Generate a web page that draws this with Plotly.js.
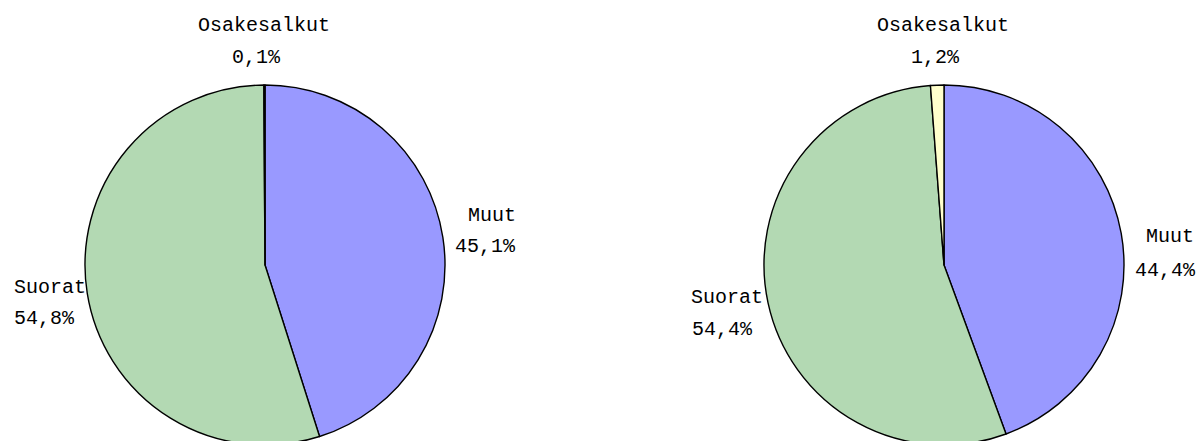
<!DOCTYPE html>
<html>
<head>
<meta charset="utf-8">
<script src="https://cdn.plot.ly/plotly-3.0.1.min.js"></script>
<style>
html,body{margin:0;padding:0;overflow:hidden;background:#fff;}
#chart{width:1201px;height:461px;}
</style>
</head>
<body>
<div id="chart"></div>
<script>
// Data
const categories = ["Muut", "Suorat", "Osakesalkut"];
const leftValues = [45.1, 54.8, 0.1];
const rightValues = [44.4, 54.4, 1.2];
const sliceColors = ["#9999FF", "#B3D9B3", "#FFFFCC"];

const W = 1201, H = 461;
const fx = p => p / W;
const fy = p => (H - p) / H;

function fmt(v){ return v.toFixed(1).replace('.', ',') + '%'; }

const pieBase = {
  type: 'pie',
  labels: categories,
  sort: false,
  direction: 'clockwise',
  rotation: 0,
  textinfo: 'none',
  hoverinfo: 'label+percent',
  showlegend: false,
  marker: {colors: sliceColors, line: {color: '#000', width: 1.4}}
};

const traces = [
  Object.assign({}, pieBase, {values: leftValues, domain: {x: [fx(85), fx(445)], y: [fy(445), fy(85)]}}),
  Object.assign({}, pieBase, {values: rightValues, domain: {x: [fx(764), fx(1124)], y: [fy(445), fy(85)]}})
];

// label placement (pixel centers) for name and value lines
const labelPos = [
  // left pie: Muut, Suorat, Osakesalkut
  [[492, 215, 485, 246], [50, 287, 44, 318], [264, 25, 256, 58]],
  // right pie
  [[1170, 236, 1165, 270], [727, 297, 722, 329], [943, 25, 935, 58]]
];
const font = {family: '"Liberation Mono", "Courier New", monospace', size: 20, color: '#000'};
const annotations = [];
[leftValues, rightValues].forEach((vals, pi) => {
  categories.forEach((c, i) => {
    const p = labelPos[pi][i];
    annotations.push({xref:'paper', yref:'paper', x: fx(p[0]), y: fy(p[1]), xanchor:'center', yanchor:'middle', text: c, showarrow:false, font: font});
    annotations.push({xref:'paper', yref:'paper', x: fx(p[2]), y: fy(p[3]), xanchor:'center', yanchor:'middle', text: fmt(vals[i]), showarrow:false, font: font});
  });
});

Plotly.newPlot('chart', traces, {
  width: W, height: H,
  margin: {l:0, r:0, t:0, b:0},
  paper_bgcolor: '#fff',
  annotations: annotations
}, {staticPlot: true});
</script>
</body>
</html>
